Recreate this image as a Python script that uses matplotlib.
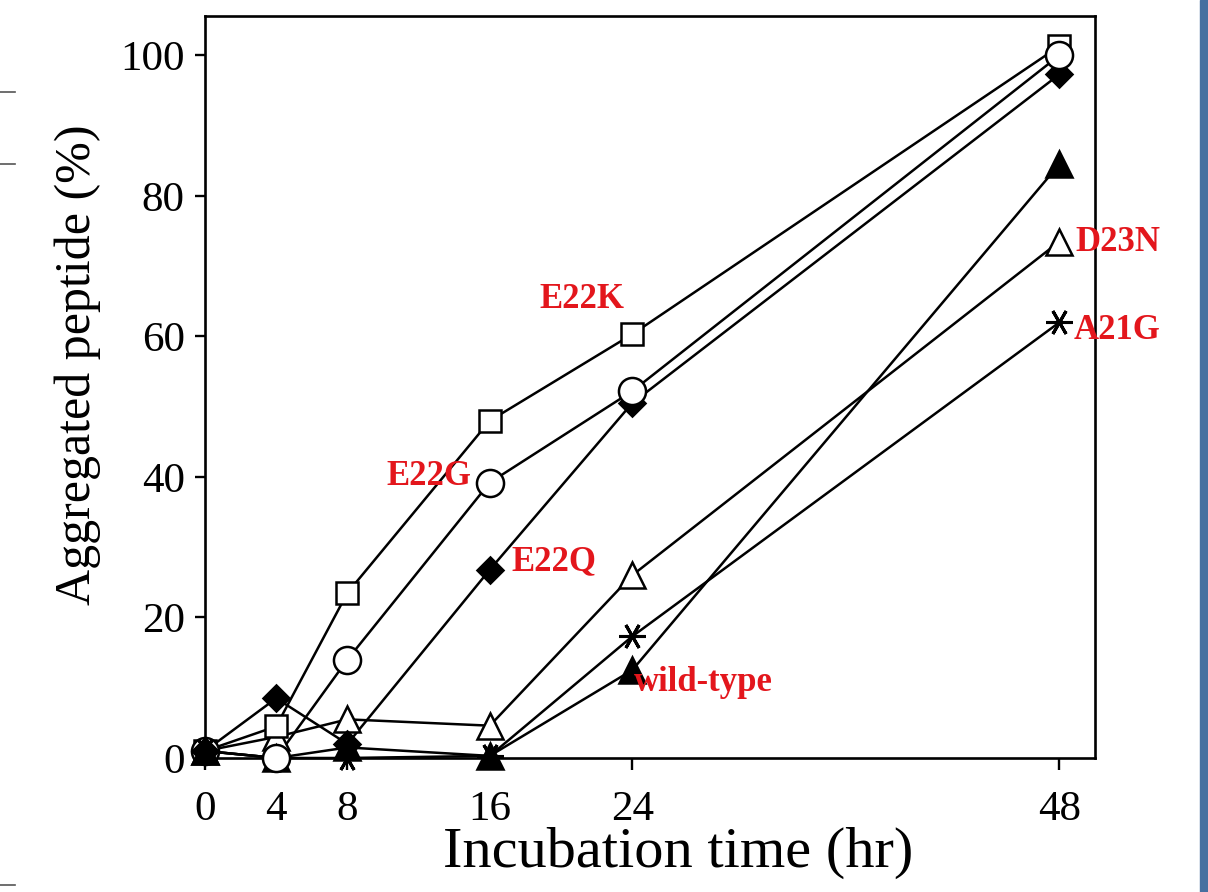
import matplotlib
matplotlib.use("Agg")
import matplotlib.pyplot as plt
from matplotlib.lines import Line2D
from matplotlib.patches import Rectangle

plt.rcParams['font.family'] = ['Liberation Serif', 'DejaVu Serif']

# ---- data ----
times = [0, 4, 8, 16, 24, 48]
xtick_labels = ['0', '4', '8', '16', '24', '48']
yticks = [0, 20, 40, 60, 80, 100]

e22k = [1, 4.5, 23.5, 48, 60.3, 101.3]      # open squares
e22q = [1, 8.5, 2, 26.8, 50.5, 97.3]        # filled diamonds
e22g = [1, 0, 14, 39.2, 52.2, 100]          # open circles
d23n = [1, 3, 5.5, 4.6, 26, 73.5]           # open triangles
wild = [1, 0, 1.5, 0.3, 12.5, 84.5]         # filled triangles
a21g = [1, 0, 0, 0.3, 17.3, 62]             # asterisks

series_names = ['E22K', 'E22G', 'E22Q', 'wild-type', 'D23N', 'A21G']
label_x = [18.8, 10.2, 17.2, 24.1, 48.9, 48.8]
label_y = [65.2, 40.0, 28.0, 10.8, 73.3, 60.9]

# ---- figure ----
W, H = 1208, 892
fig = plt.figure(figsize=(W / 100, H / 100), dpi=100)
ax = fig.add_axes([205 / W, 1 - 758 / H, (1095 - 205) / W, (758 - 16) / H])

styles = [
    (d23n, False, dict(marker='^', ms=19, mfc='white', mec='black', mew=1.8)),
    (a21g, True, dict(marker=(6, 2, 90), ms=19, mfc='black', mec='black', mew=2.2)),
    (wild, True, dict(marker='^', ms=19, mfc='black', mec='black', mew=1.8)),
    (e22k, False, dict(marker='s', ms=16.5, mfc='white', mec='black', mew=1.8)),
    (e22q, True, dict(marker='D', ms=13.5, mfc='black', mec='black', mew=1.8)),
    (e22g, False, dict(marker='o', ms=19.5, mfc='white', mec='black', mew=1.8)),
]

for ys, filled, st in styles:
    ax.plot(times, ys, color='black', lw=1.8, zorder=2, clip_on=False)
for ys, filled, st in styles:
    ax.plot(times[1:], ys[1:], linestyle='none', zorder=3, clip_on=False, **st)
    # the first point: filled marks lie on top of the open ones in the original
    ax.plot(times[:1], ys[:1], linestyle='none', zorder=4 if filled else 3,
            clip_on=False, **st)

ax.set_xlim(0, 50)
ax.set_ylim(0, 105.6)
ax.set_xticks(times)
ax.set_xticklabels(xtick_labels)
ax.set_yticks(yticks)

for s in ax.spines.values():
    s.set_linewidth(1.9)
ax.tick_params(axis='both', direction='out', width=1.7, labelsize=31, colors='black')
ax.tick_params(axis='y', length=7.5, pad=7)
ax.tick_params(axis='x', length=8.5, pad=15)

ax.set_xlabel('Incubation time (hr)', fontsize=42)
ax.set_ylabel('Aggregated peptide (%)', fontsize=36)
ax.xaxis.set_label_coords((678 - 205) / 890, (758 - 827) / 742)
ax.xaxis.label.set_verticalalignment('top')
ax.yaxis.set_label_coords((101 - 205) / 890, (758 - 365) / 742)

for name, lx, ly in zip(series_names, label_x, label_y):
    ax.text(lx, ly, name, color='#e3161c', fontsize=25, fontweight='bold',
            ha='left', va='center', zorder=5, clip_on=False)

# slide artefacts: blue side bar and small marks at left edge
fig.patches.append(Rectangle((1200 / W, 0), 8 / W, 1, transform=fig.transFigure,
                             color='#4670a0', zorder=0))
for py in [92, 164, 885]:
    fig.lines.append(Line2D([0, 15 / W], [1 - py / H, 1 - py / H], transform=fig.transFigure,
                            color='#555555', lw=1.2))

fig.savefig('out.png', dpi=100)
